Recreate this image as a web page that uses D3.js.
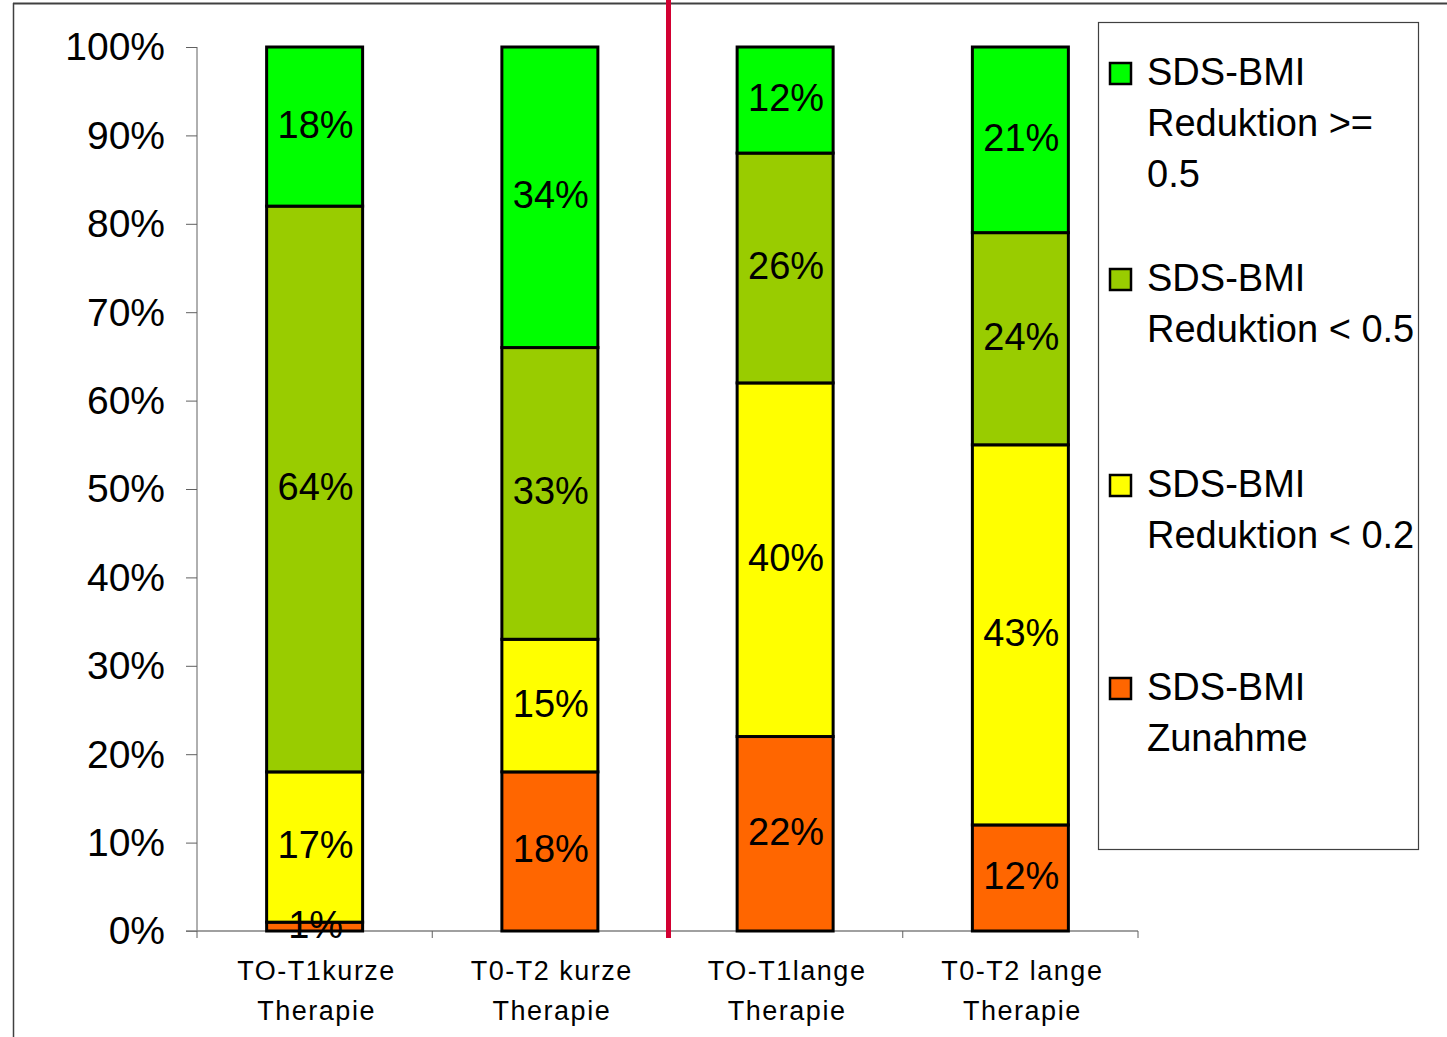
<!DOCTYPE html>
<html>
<head>
<meta charset="utf-8">
<script src="https://cdn.jsdelivr.net/npm/d3@7"></script>
<style>
  body { margin: 0; background: #fff; }
  text { font-family: "Liberation Sans", Arial, sans-serif; fill: #000; }
</style>
</head>
<body>
<svg id="chart" width="1447" height="1037"></svg>
<script>
// Daten
const categories = ["TO-T1kurze|Therapie", "T0-T2 kurze|Therapie", "TO-T1lange|Therapie", "T0-T2 lange|Therapie"];
const zunahme    = [1, 18, 22, 12];
const reduk02    = [17, 15, 40, 43];
const reduk05    = [64, 33, 26, 24];
const redukGe05  = [18, 34, 12, 21];
const seriesNames = [
  ["SDS-BMI", "Zunahme"],
  ["SDS-BMI", "Reduktion < 0.2"],
  ["SDS-BMI", "Reduktion < 0.5"],
  ["SDS-BMI", "Reduktion >=", "0.5"]
];
const colors = ["#ff6600", "#ffff00", "#99cc00", "#00ff00"];
const yTicks = [0, 10, 20, 30, 40, 50, 60, 70, 80, 90, 100];

const svg = d3.select("#chart");

// Rahmen
svg.append("line").attr("x1", 13).attr("x2", 1447).attr("y1", 3.5).attr("y2", 3.5)
  .attr("stroke", "#404040").attr("stroke-width", 2);
svg.append("line").attr("x1", 13.5).attr("x2", 13.5).attr("y1", 3).attr("y2", 1037)
  .attr("stroke", "#404040").attr("stroke-width", 1.5);

const x = d3.scaleBand().domain(categories).range([197, 1138]);
const y = d3.scaleLinear().domain([0, 100]).range([931, 47]);

// Y-Achse
const yAxis = svg.append("g").attr("transform", "translate(197,0)")
  .call(d3.axisLeft(y).tickValues(yTicks).tickSize(11).tickPadding(21).tickFormat(d => d + "%"));
yAxis.selectAll("path, line").attr("stroke", "#606060");
yAxis.select(".domain").attr("d", "M0," + y(0) + "V" + y(100));
yAxis.selectAll("text").style("font-size", "39px").attr("dy", "0.33em")
  .style("font-family", "'Liberation Sans', Arial, sans-serif").attr("fill", "#000");

// X-Achse
svg.append("line").attr("x1", 186).attr("x2", 1138).attr("y1", y(0)).attr("y2", y(0))
  .attr("stroke", "#808080").attr("stroke-width", 1.5);
const xt = [0, 1, 2, 3, 4].map(i => 197 + i * x.step());
svg.selectAll(".xtick").data(xt).enter().append("line")
  .attr("x1", d => d).attr("x2", d => d).attr("y1", y(0)).attr("y2", y(0) + 7)
  .attr("stroke", "#606060");

categories.forEach(c => {
  const cx = x(c) + x.bandwidth() / 2 + 2;
  const t = svg.append("text").attr("text-anchor", "middle").style("font-size", "27px")
    .style("letter-spacing", "1.5px").attr("x", cx).attr("y", 980);
  c.split("|").forEach((l, i) => {
    t.append("tspan").attr("x", cx).attr("dy", i ? 40 : 0).text(l);
  });
});

// Balken stapeln
const rows = categories.map((c, i) => ({ cat: c, s0: zunahme[i], s1: reduk02[i], s2: reduk05[i], s3: redukGe05[i] }));
const stack = d3.stack().keys(["s0", "s1", "s2", "s3"])(rows);
const barW = 96;

const layers = svg.append("g").selectAll("g").data(stack).enter().append("g")
  .attr("fill", (d, i) => colors[i]);
layers.selectAll("rect").data(d => d).enter().append("rect")
  .attr("x", d => x(d.data.cat) + x.bandwidth() / 2 - barW / 2)
  .attr("width", barW)
  .attr("y", d => y(d[1]))
  .attr("height", d => y(d[0]) - y(d[1]))
  .attr("stroke", "#000").attr("stroke-width", 3);

// Beschriftungen über allen Balken
const labels = svg.append("g").selectAll("g").data(stack).enter().append("g");
labels.selectAll("text").data(d => d).enter().append("text")
  .attr("text-anchor", "middle").style("font-size", "38px")
  .attr("x", d => x(d.data.cat) + x.bandwidth() / 2 + 1)
  .attr("y", d => (y(d[0]) + y(d[1])) / 2 + 11)
  .text(d => (d[1] - d[0]) + "%");

// rote Trennlinie
svg.append("line").attr("x1", 668.5).attr("x2", 668.5).attr("y1", 0).attr("y2", 938)
  .attr("stroke", "#d20032").attr("stroke-width", 5);

// Legende
svg.append("rect").attr("x", 1098.5).attr("y", 22.5).attr("width", 320).attr("height", 827)
  .attr("fill", "#fff").attr("stroke", "#404040").attr("stroke-width", 1.2);
const legY = [73, 279, 485, 688];
[3, 2, 1, 0].forEach((si, k) => {
  svg.append("rect").attr("x", 1110).attr("y", legY[k] - 10).attr("width", 21).attr("height", 21)
    .attr("fill", colors[si]).attr("stroke", "#000").attr("stroke-width", 2.5);
  seriesNames[si].forEach((l, j) => {
    svg.append("text").attr("x", 1147).attr("y", legY[k] + 12 + j * 51)
      .style("font-size", "38px").text(l);
  });
});
</script>
</body>
</html>
